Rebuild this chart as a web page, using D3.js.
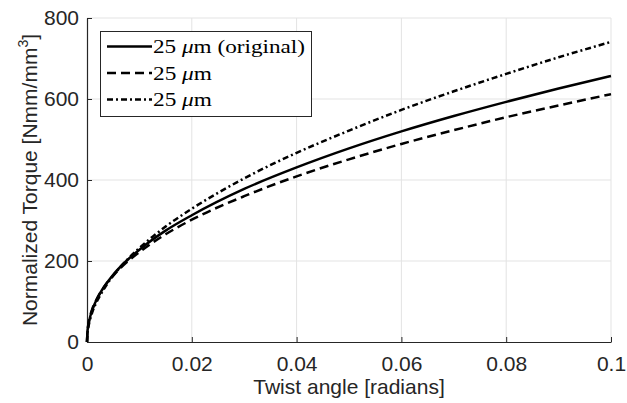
<!DOCTYPE html>
<html><head><meta charset="utf-8">
<script src="https://cdn.jsdelivr.net/npm/d3@7"></script>
<style>body{margin:0;background:#fff}</style>
</head><body>
<svg id="c" width="627" height="403"></svg>
<script>
const xVals = [0, 0.0001, 0.0002, 0.0005, 0.001, 0.002, 0.003, 0.005, 0.0075, 0.01, 0.015, 0.02, 0.03, 0.04, 0.05, 0.06, 0.07, 0.08, 0.09, 0.1];
const solidVals = [0, 27, 37, 57, 79, 109, 131, 166, 200, 228, 275, 313, 378, 431, 478, 520, 558, 593, 626, 657];
const dashedVals = [0, 29, 39, 59, 81, 109, 131, 164, 196, 222, 266, 302, 360, 409, 451, 489, 523, 555, 584, 612];
const dashDotVals = [0, 23, 32, 51, 73, 103, 126, 164, 201, 232, 285, 329, 404, 467, 522, 573, 619, 662, 703, 741];
const xTicks = [0, 0.02, 0.04, 0.06, 0.08, 0.1];
const yTicks = [0, 200, 400, 600, 800];
const seriesSuffix = [" (original)", "", ""];
const seriesDash = [null, "9,5", "6,3,2,3"];
const legendWidths = [152, 59, 59];

const svg = d3.select("#c");
const L = 87, R = 611, T = 18, B = 342;
const x = d3.scaleLinear().domain([0, 0.1]).range([L, R]);
const y = d3.scaleLinear().domain([0, 800]).range([B, T]);
const SANS = "Liberation Sans, Arial, sans-serif";

// grid
const g = svg.append("g");
g.selectAll(".gx").data(xTicks.slice(1)).enter().append("line")
  .attr("x1", d => x(d)).attr("x2", d => x(d)).attr("y1", T).attr("y2", B)
  .attr("stroke", "#e3e3e3").attr("stroke-width", 1);
g.selectAll(".gy").data(yTicks.slice(1)).enter().append("line")
  .attr("x1", L).attr("x2", R).attr("y1", d => y(d)).attr("y2", d => y(d))
  .attr("stroke", "#e3e3e3").attr("stroke-width", 1);

// axes
const xAxis = d3.axisBottom(x).tickValues(xTicks).tickSizeInner(-5).tickSizeOuter(0).tickPadding(14)
  .tickFormat(d => d === 0 ? "0" : (d === 0.1 ? "0.1" : d3.format(".2f")(d)));
const yAxis = d3.axisLeft(y).tickValues(yTicks).tickSizeInner(-5).tickSizeOuter(0).tickPadding(8);
const ax = svg.append("g").attr("transform", `translate(0,${B})`).call(xAxis);
const ay = svg.append("g").attr("transform", `translate(${L},0)`).call(yAxis);
[ax, ay].forEach(a => {
  a.select(".domain").attr("stroke", "#262626").attr("stroke-width", 1.2);
  a.selectAll(".tick line").attr("stroke", "#262626");
  a.selectAll(".tick text").attr("fill", "#262626").style("font-family", SANS).style("font-size", "21px");
});

// lines
const data = [solidVals, dashedVals, dashDotVals];
const line = d3.line().x(d => x(d[0])).y(d => y(d[1])).curve(d3.curveMonotoneX);
data.forEach((vals, i) => {
  svg.append("path").datum(xVals.map((xv, j) => [xv, vals[j]]))
    .attr("d", line).attr("fill", "none").attr("stroke", "#000").attr("stroke-width", 2.5)
    .attr("stroke-dasharray", seriesDash[i]);
});

// axis titles
svg.append("text").attr("x", (L + R) / 2).attr("y", 394).attr("text-anchor", "middle")
  .style("font-family", SANS).style("font-size", "21px").attr("fill", "#262626")
  .text("Twist angle [radians]");
const yt = svg.append("text").attr("transform", `translate(36.5,${(T + B) / 2}) rotate(-90)`).attr("text-anchor", "middle")
  .style("font-family", SANS).style("font-size", "21px").attr("fill", "#262626");
yt.append("tspan").text("Normalized Torque [Nmm/mm");
yt.append("tspan").attr("dy", -9).style("font-size", "14px").text("3");
yt.append("tspan").attr("dy", 9).text("]");

// legend
const lg = svg.append("g");
lg.append("rect").attr("x", 100.5).attr("y", 31.5).attr("width", 211).attr("height", 85)
  .attr("fill", "#fff").attr("stroke", "#262626").attr("stroke-width", 1);
seriesSuffix.forEach((suf, i) => {
  const yy = 46.5 + i * 26.5;
  lg.append("line").attr("x1", 107).attr("x2", 152).attr("y1", yy).attr("y2", yy)
    .attr("stroke", "#000").attr("stroke-width", 2.5).attr("stroke-dasharray", seriesDash[i]);
  const t = lg.append("text").attr("x", 153).attr("y", yy + 6.8)
    .attr("textLength", legendWidths[i]).attr("lengthAdjust", "spacingAndGlyphs")
    .style("font-family", "Liberation Serif, Times New Roman, serif").style("font-size", "18px").attr("fill", "#000");
  t.append("tspan").text("25 ");
  t.append("tspan").style("font-style", "italic").text("\u03bc");
  t.append("tspan").text("m" + suf);
});
</script>
</body></html>
